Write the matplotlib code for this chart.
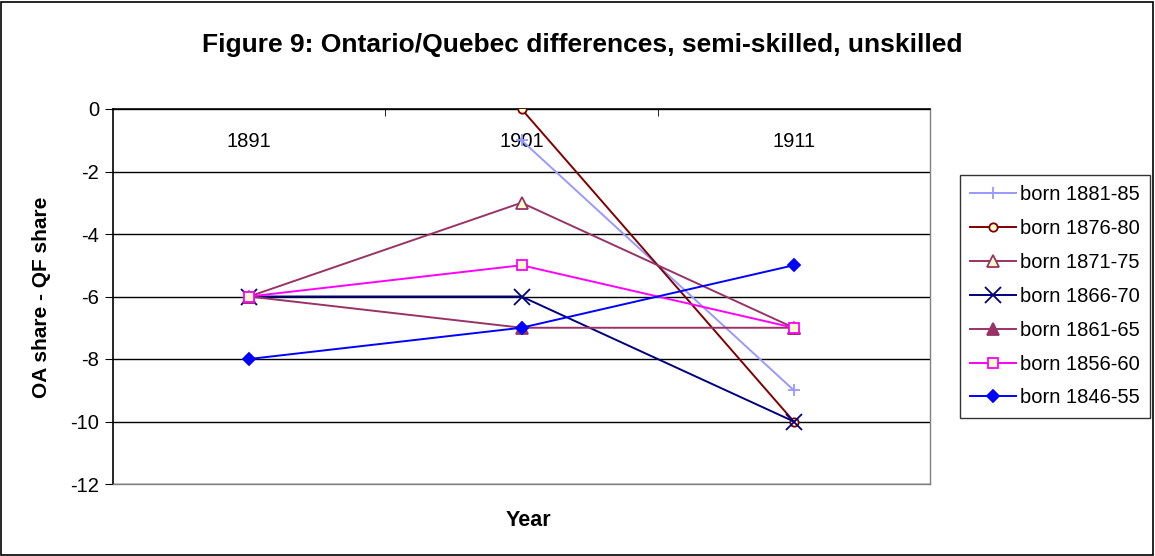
import numpy as np
import matplotlib
matplotlib.use("Agg")
import matplotlib.pyplot as plt
from matplotlib.patches import Rectangle

plt.rcParams['font.family'] = ['Liberation Sans', 'DejaVu Sans']
plt.rcParams['axes.unicode_minus'] = False

# data
years = ['1891', '1901', '1911']
cohorts = ['born 1881-85', 'born 1876-80', 'born 1871-75', 'born 1866-70',
           'born 1861-65', 'born 1856-60', 'born 1846-55']
born_1881_85 = [np.nan, -1, -9]
born_1876_80 = [np.nan, 0, -10]
born_1871_75 = [-6, -3, -7]
born_1866_70 = [-6, -6, -10]
born_1861_65 = [-6, -7, -7]
born_1856_60 = [-6, -5, -7]
born_1846_55 = [-8, -7, -5]
series = [born_1881_85, born_1876_80, born_1871_75, born_1866_70,
          born_1861_65, born_1856_60, born_1846_55]

# Excel-like styles: colour, marker, marker size, face colour
styles = [
    ('#9999FF', '+', 9, '#9999FF'),
    ('#800000', 'o', 6, '#FFFFCC'),
    ('#993366', '^', 8, '#FFFFCC'),
    ('#000080', 'x', 11, '#000080'),
    ('#993366', '^', 8, '#993366'),
    ('#FF00FF', 's', 7, '#FFFFCC'),
    ('#0000FF', 'D', 6, '#0000FF'),
]

fig = plt.figure(figsize=(11.55, 5.56), dpi=100)
ax = fig.add_axes([113 / 1155, 1 - 484 / 556, 817 / 1155, 375 / 556])

x = np.arange(len(years))
handles = []
for vals, name, (col, mk, ms, fc) in zip(series, cohorts, styles):
    h, = ax.plot(x, vals, color=col, marker=mk, markersize=ms,
                 markerfacecolor=fc, markeredgecolor=col, markeredgewidth=1.3,
                 linewidth=1.4, label=name, zorder=3)
    handles.append(h)

ax.set_xlim(-0.5, 2.5)
ax.set_ylim(-12, 0)
ax.set_yticks(np.arange(-12, 1, 2))
ax.tick_params(axis='y', direction='out', length=6, labelsize=14.5, pad=4)
ax.yaxis.grid(True, color='black', linewidth=1.0)
ax.set_axisbelow(True)

# category axis sits at y=0 (top), labels drawn just under it
ax.xaxis.tick_top()
ax.set_xticks(x, labels=years)
ax.set_xticks([0.5, 1.5], minor=True)
ax.tick_params(axis='x', which='major', length=0, labelsize=14.5, pad=-30)
ax.tick_params(axis='x', which='minor', direction='in', length=5, color='black')

for side in ['top', 'left']:
    ax.spines[side].set_color('black')
    ax.spines[side].set_linewidth(1.2)
for side in ['right', 'bottom']:
    ax.spines[side].set_color('#808080')
    ax.spines[side].set_linewidth(1.0)

fig.text(582 / 1155, 1 - 45 / 556,
         'Figure 9: Ontario/Quebec differences, semi-skilled, unskilled',
         ha='center', va='center', fontsize=19, fontweight='bold')
fig.text(42 / 1155, 1 - 297 / 556, 'OA share - QF share', rotation=90,
         ha='center', va='center', fontsize=15, fontweight='bold')
fig.text(528 / 1155, 1 - 520 / 556, 'Year', ha='center', va='center',
         fontsize=15.5, fontweight='bold')

leg = fig.legend(handles=handles, loc='upper left',
                 bbox_to_anchor=(960 / 1155, 1 - 175 / 556),
                 fontsize=14.5, frameon=True, fancybox=False,
                 handlelength=2.3, handletextpad=0.2, borderpad=0.5,
                 labelspacing=0.74, borderaxespad=0)
leg.get_frame().set_edgecolor('black')
leg.get_frame().set_linewidth(1.0)

# outer chart border
fig.patches.append(Rectangle((0.001, 0.002), 0.997, 0.995, transform=fig.transFigure,
                             fill=False, edgecolor='black', linewidth=1.2))

fig.savefig('out.png', dpi=100)
